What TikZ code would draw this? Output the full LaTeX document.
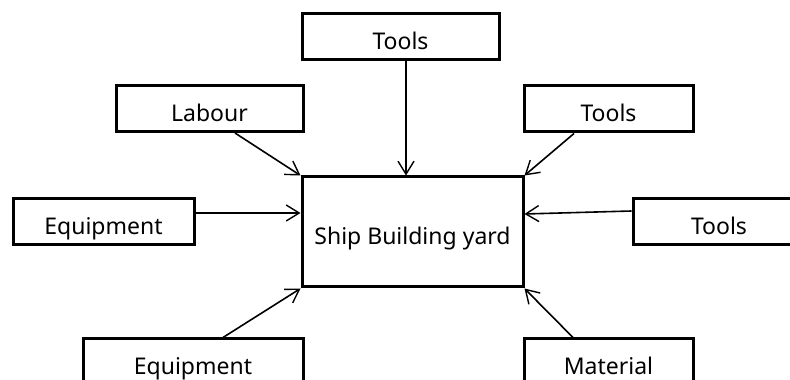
\documentclass[tikz,border=0pt]{standalone}
\usepackage{fontspec}
\setmainfont{Noto Sans}
\usetikzlibrary{arrows.meta}
\begin{document}
\begin{tikzpicture}[x=1pt,y=1pt,
  box/.style={draw=black, line width=3pt, fill=white, inner sep=0pt,
    text height=26pt, text depth=0pt, font=\fontsize{23}{27}\selectfont,
    minimum height=46pt},
  arr/.style={draw=black, line width=1.6pt,
    -{Straight Barb[length=13pt,width=16pt,line width=1.4pt]}}]
\useasboundingbox (0,0) rectangle (790,380);
\clip (0,0) rectangle (790,380);
% y = 380 - pixel row
\node[box, minimum width=197pt] (topTools) at (400.5,343.5) {Tools};
\node[box, minimum width=187pt] (labour) at (209.5,271.5) {Labour};
\node[box, minimum width=169pt] (toolsA) at (608.5,271) {Tools};
\node[box, minimum width=181pt] (equipL) at (103.5,158.5) {Equipment};
\node[box, minimum width=221pt, minimum height=110pt] (yard) at (412.5,148) {Ship Building yard};
\node[box, minimum width=172pt] (toolsB) at (719,158.5) {Tools};
\node[box, minimum width=220pt] (equipB) at (193,18) {Equipment};
\node[box, minimum width=169pt] (material) at (608.5,18) {Material};
\draw[arr] (topTools.south -| 406,0) -- (yard.north -| 406,0);
\draw[arr] (labour.south -| 235,0) -- (yard.north west);
\draw[arr] (toolsA.south -| 574,0) -- (yard.north east);
\draw[arr] (equipL.east |- 0,167) -- (yard.west |- 0,167);
\draw[arr] (toolsB.west |- 0,169) -- (yard.east |- 0,166);
\draw[arr] (equipB.north -| 223,0) -- (yard.south west);
\draw[arr] (material.north -| 573,0) -- (yard.south east);
\end{tikzpicture}
\end{document}
